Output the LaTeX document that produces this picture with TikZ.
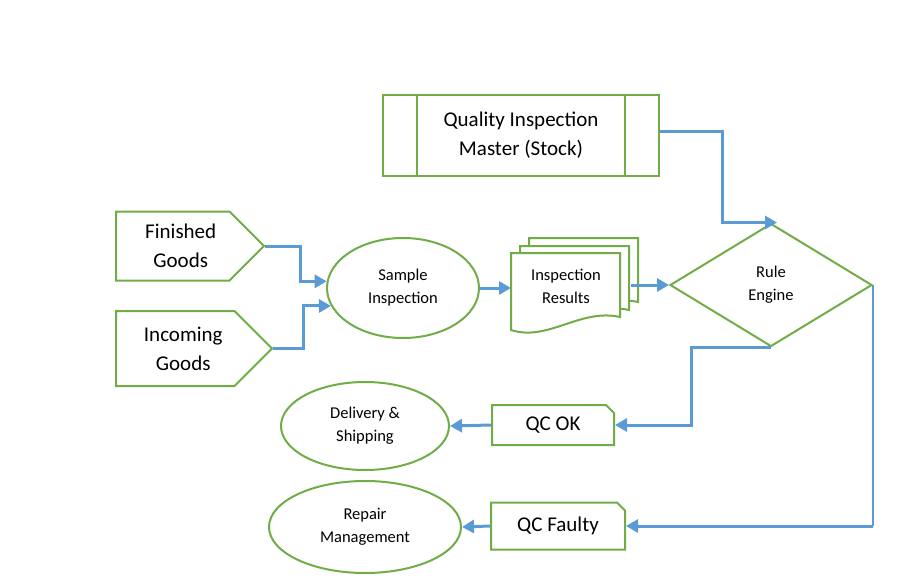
\documentclass[tikz,border=0pt]{standalone}
\usepackage{fontspec}
\setmainfont{Carlito}
\usetikzlibrary{arrows.meta,positioning,shapes.geometric,shapes.symbols,shapes.misc}
\definecolor{boxgreen}{HTML}{70AD47}
\definecolor{flowblue}{HTML}{5B9BD5}

\begin{document}
\begin{tikzpicture}[x=1pt, y=-1pt,
  box/.style={draw=boxgreen, line width=2pt},
  bigtext/.style={font=\fontsize{21}{29}\selectfont, align=center},
  smalltext/.style={font=\fontsize{16.5}{23}\selectfont, align=center},
  oval/.style={box, ellipse, smalltext, inner sep=0pt},
  source/.style={box, signal, signal to=east, signal pointer angle=90, inner sep=0pt},
  result/.style={box, chamfered rectangle, chamfered rectangle corners=north east,
    chamfered rectangle xsep=4pt, chamfered rectangle ysep=4pt, bigtext, inner sep=0pt},
  flow/.style={draw=flowblue, line width=3pt, -{Triangle[length=12pt,width=13pt]}}
]
  \useasboundingbox (0,0) rectangle (922,578);

  % master data
  \node[box, bigtext, minimum width=276, minimum height=81, inner sep=0pt] (master) at (521,135.5)
    {Quality Inspection\\Master (Stock)};
  \draw[box] ([xshift=35]master.north west) -- ([xshift=35]master.south west);
  \draw[box] ([xshift=-35]master.north east) -- ([xshift=-35]master.south east);

  % goods coming in
  \node[source, minimum width=148, minimum height=69, anchor=west,
    label={[bigtext, xshift=8pt]center:Finished\\Goods}] (finished) at (115,246) {};
  \node[source, minimum width=156, minimum height=75, anchor=west,
    label={[bigtext, xshift=8pt]center:Incoming\\Goods}] (incoming) at (115,348.5) {};

  \node[oval, minimum width=152, minimum height=100] (sample) at (403,288) {Sample\\Inspection};

  % stack of result sheets
  \foreach \dx/\dy in {18/-15, 9/-7, 0/0}
    \draw[box, fill=white, shift={(\dx,\dy)}] (511,253) -- (620,253) -- (620,317)
      .. controls (580,308) and (548,342) .. (511,330) -- cycle;
  \node[smalltext] (results) at (566,286) {Inspection\\Results};
  \coordinate (resin) at (511,291);
  \coordinate (resout) at (631,285);

  \node[box, diamond, smalltext, aspect=1.64, inner sep=0pt, minimum width=202, minimum height=123]
    (rule) at (771,285) {Rule\\Engine};

  % outcomes
  \node[result, minimum width=122, minimum height=40] (qcok) at (553,425) {QC OK};
  \node[result, minimum width=134, minimum height=47] (qcfaulty) at (558,526) {QC Faulty};
  \node[oval, minimum width=168, minimum height=88] (delivery) at (365,426) {Delivery \&\\Shipping};
  \node[oval, minimum width=192, minimum height=92] (repair) at (365,527) {Repair\\Management};

  % connectors
  \draw[flow] (finished.east) -- ++(35,0) |- (sample.175);
  \draw[flow] (incoming.east) -- ++(30,0) |- (sample.194);
  \draw[flow] (sample.east) -- (sample.east -| resin);
  \draw[flow] (resout) -- (rule.west);
  \draw[flow] ([yshift=4pt]master.east) -- ++(62,0) |- ([xshift=6pt]rule.north);
  \draw[flow] (rule.south) -- ++(-80,0) |- (qcok.east);
  \coordinate (turn) at (rule.east |- qcfaulty.east);
  \draw[draw=flowblue, line width=1.2pt] (rule.east) -- (turn);
  \draw[flow] (turn) -- (qcfaulty.east);
  \draw[flow] (qcok.west) -- (delivery.east);
  \draw[flow] (qcfaulty.west) -- (repair.east);
\end{tikzpicture}
\end{document}
